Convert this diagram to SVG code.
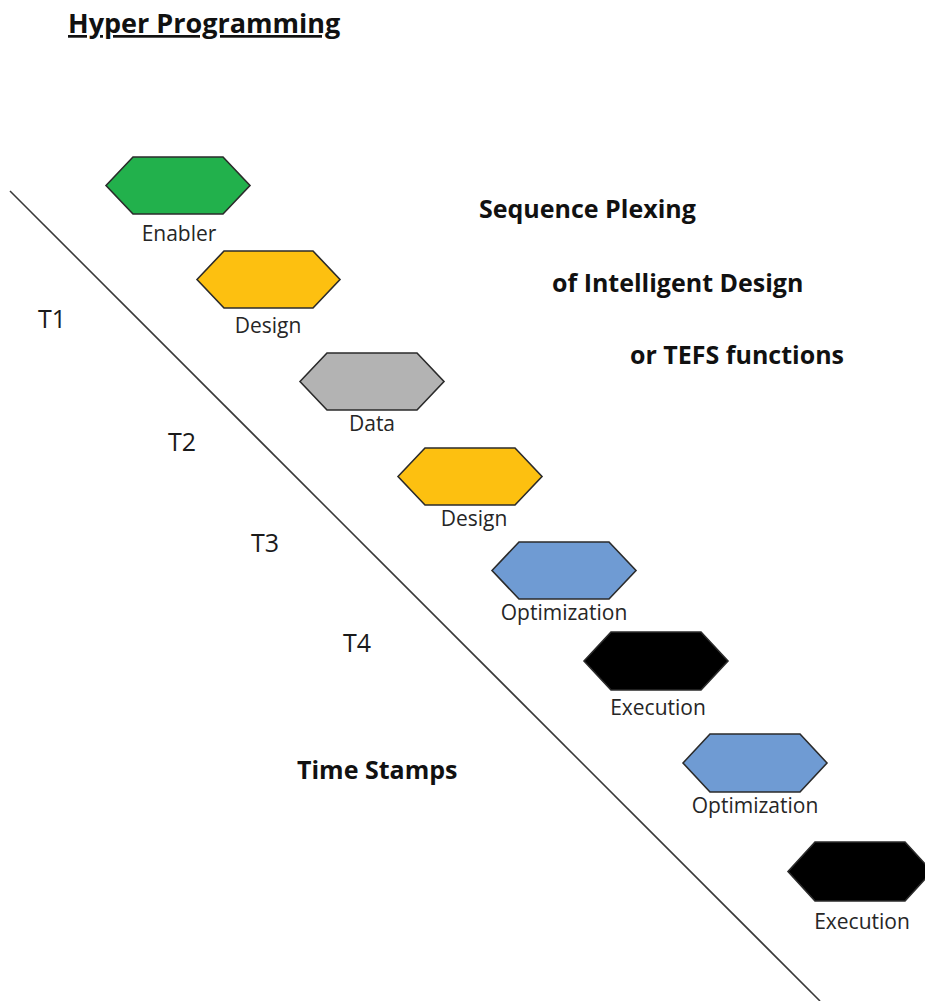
<svg xmlns="http://www.w3.org/2000/svg" width="925" height="1001" viewBox="0 0 925 1001">
<style>
.hex{stroke:#2b2b2b;stroke-width:1.6;stroke-linejoin:miter}
.lbl{font-family:"Open Sans","Noto Sans",sans-serif;font-size:21px;fill:#262626;text-anchor:middle}
.t{font-family:"Open Sans","Noto Sans",sans-serif;font-size:25px;fill:#1a1a1a}
.b{font-family:"Open Sans","Noto Sans",sans-serif;font-size:25px;font-weight:bold;fill:#111}
</style>
<rect width="925" height="1001" fill="#ffffff"/>
<g id="connectors">
<line x1="10" y1="191" x2="820" y2="1001" stroke="#3a3a3a" stroke-width="1.6"/>
</g>
<g id="title">
<text x="68" y="33" class="b" style="font-size:27px;text-decoration:underline">Hyper Programming</text>
</g>
<g id="caption">
<text x="479" y="218" class="b">Sequence Plexing</text>
<text x="552" y="292" class="b">of Intelligent Design</text>
<text x="630" y="364" class="b">or TEFS functions</text>
</g>
<g id="time-labels">
<text x="38" y="328" class="t">T1</text>
<text x="168" y="451" class="t">T2</text>
<text x="251" y="552" class="t">T3</text>
<text x="343" y="652" class="t">T4</text>
<text x="297" y="779" class="b">Time Stamps</text>
</g>
<g id="n-enabler">
<polygon class="hex" fill="#22b14c" points="106,185.5 133,157 223,157 250,185.5 223,214 133,214"/>
<text x="179" y="241" class="lbl">Enabler</text>
</g>
<g id="n-design1">
<polygon class="hex" fill="#fdc010" points="197,279.5 224,251 313,251 340,279.5 313,308 224,308"/>
<text x="268" y="333" class="lbl">Design</text>
</g>
<g id="n-data">
<polygon class="hex" fill="#b3b3b3" points="300,381.5 327,353 417,353 444,381.5 417,410 327,410"/>
<text x="372" y="431" class="lbl">Data</text>
</g>
<g id="n-design2">
<polygon class="hex" fill="#fdc010" points="398,476.5 425,448 515,448 542,476.5 515,505 425,505"/>
<text x="474" y="526" class="lbl">Design</text>
</g>
<g id="n-opt1">
<polygon class="hex" fill="#6f9bd3" points="492,570.5 519,542 609,542 636,570.5 609,599 519,599"/>
<text x="564" y="620" class="lbl">Optimization</text>
</g>
<g id="n-exec1">
<polygon class="hex" fill="#000000" points="584,661 611,632 701,632 728,661 701,690 611,690"/>
<text x="658" y="715" class="lbl">Execution</text>
</g>
<g id="n-opt2">
<polygon class="hex" fill="#6f9bd3" points="683,763 710,734 800,734 827,763 800,792 710,792"/>
<text x="755" y="813" class="lbl">Optimization</text>
</g>
<g id="n-exec2">
<polygon class="hex" fill="#000000" points="788,871.5 815,842 905,842 932,871.5 905,901 815,901"/>
<text x="862" y="929" class="lbl">Execution</text>
</g>
</svg>
